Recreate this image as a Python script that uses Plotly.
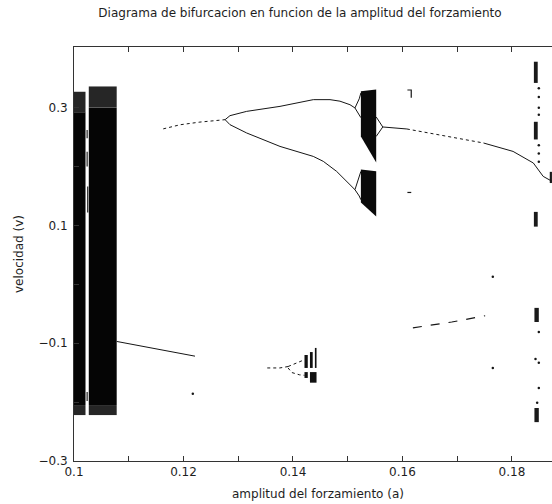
import plotly.graph_objects as go

# ---------------------------------------------------------------- axes
a_range = [0.1, 0.18731]
v_range = [-0.3, 0.403]

x_tick_vals = [0.10, 0.11, 0.12, 0.13, 0.14, 0.15, 0.16, 0.17, 0.18]
x_tick_text = ["0.1", "", "0.12", "", "0.14", "", "0.16", "", "0.18"]
y_tick_vals = [-0.3, -0.2, -0.1, 0.0, 0.1, 0.2, 0.3]
y_tick_text = ["\u22120.3", "", "\u22120.1", "", "0.1", "", "0.3"]

# ---------------------------------------------------------------- chaotic regions
# dense chaotic bands near a = 0.10 : (a_lo, a_hi, v_lo, v_hi)
dense_bands = [
    (0.1000, 0.1021, -0.205, 0.292),
    (0.1027, 0.1078, -0.205, 0.300),
]
# speckled ends of those bands
fringe_bands = [
    (0.1000, 0.1021, 0.292, 0.327),
    (0.1000, 0.1021, -0.222, -0.205),
    (0.1027, 0.1078, 0.300, 0.336),
    (0.1027, 0.1078, -0.222, -0.205),
]
# chaos after the period-doubling cascade near a = 0.153
chaos_hi_a = [0.1524, 0.1552, 0.1552, 0.1524]
chaos_hi_v = [0.328, 0.331, 0.207, 0.251]
chaos_lo_a = [0.1524, 0.1552, 0.1552, 0.1524]
chaos_lo_v = [0.195, 0.192, 0.115, 0.139]

# small chaotic windows near a = 0.143 (lower branch)
window_cells = [
    (0.1421, 0.1427, -0.142, -0.120),
    (0.1431, 0.1436, -0.142, -0.115),
    (0.1440, 0.1443, -0.142, -0.108),
    (0.1421, 0.1427, -0.159, -0.149),
    (0.1431, 0.1443, -0.167, -0.149),
]
# clusters near a = 0.184
right_cells = [
    (0.1840, 0.1847, 0.342, 0.378),
    (0.1840, 0.1847, 0.246, 0.276),
    (0.1840, 0.1847, 0.098, 0.123),
    (0.1841, 0.1849, -0.064, -0.040),
    (0.1841, 0.1849, -0.234, -0.210),
    (0.1869, 0.1873, 0.172, 0.191),
]

# ---------------------------------------------------------------- periodic branches
low_a = [0.1078, 0.1150, 0.1221]
low_v = [-0.097, -0.110, -0.122]

p1_a = [0.1163, 0.1194, 0.1230, 0.1276]
p1_v = [0.264, 0.271, 0.2755, 0.2796]

up_fork_a = [0.1276, 0.12849, 0.13154, 0.13763, 0.14371, 0.14676, 0.14858, 0.15041, 0.15132]
up_fork_v = [0.2796, 0.2864, 0.2937, 0.3022, 0.3136, 0.3136, 0.3110, 0.3050, 0.2995]

dn_fork_a = [0.1276, 0.12849, 0.13154, 0.13459, 0.13763, 0.14371, 0.14554, 0.14797, 0.14980, 0.15132]
dn_fork_v = [0.2796, 0.2711, 0.2570, 0.2456, 0.2342, 0.2172, 0.2088, 0.1918, 0.1748, 0.1607]

pd_up_a = [0.1524, 0.1521, 0.15132, 0.1521, 0.1524]
pd_up_v = [0.325, 0.315, 0.2995, 0.288, 0.283]
pd_dn_a = [0.1524, 0.1521, 0.15132, 0.1521, 0.1524]
pd_dn_v = [0.1918, 0.182, 0.1607, 0.150, 0.1437]

merge_a = [0.1552, 0.1564, 0.1552]
merge_v = [0.2842, 0.2672, 0.2512]

right_a = [0.1564, 0.1608, 0.1668, 0.1748, 0.1802, 0.1839, 0.1857, 0.1873]
right_v = [0.2672, 0.2638, 0.2541, 0.2400, 0.2257, 0.2060, 0.1833, 0.1750]

mid_a = [0.1619, 0.1690, 0.1751]
mid_v = [-0.0738, -0.0640, -0.0534]

# pitchfork of the lower branch before the small windows
w_stem_a = [0.1353, 0.1363, 0.1376, 0.1391]
w_stem_v = [-0.142, -0.142, -0.142, -0.1396]
w_up_a = [0.1391, 0.1398, 0.1412, 0.1421]
w_up_v = [-0.1396, -0.1367, -0.132, -0.128]
w_dn_a = [0.1391, 0.1398, 0.1412, 0.1421]
w_dn_v = [-0.1420, -0.1498, -0.1537, -0.1545]

# isolated points and short traces
dots_a = [0.1217, 0.1765, 0.1765, 0.1849, 0.1843, 0.1849, 0.1849, 0.1846,
          0.1849, 0.1849, 0.1849, 0.1849, 0.1849, 0.1849, 0.1849]
dots_v = [-0.186, 0.013, -0.142, -0.081, -0.127, -0.133, -0.176, -0.201,
          0.333, 0.318, 0.300, 0.288, 0.236, 0.222, 0.208]

gap_a = [0.1024, 0.1024, 0.1025, 0.1024]
gap_lo = [0.248, 0.200, 0.122, -0.198]
gap_hi = [0.262, 0.225, 0.166, -0.183]

tick_marks_a = [[0.1609, 0.1616, 0.1616], [0.1609, 0.1616]]
tick_marks_v = [[0.330, 0.330, 0.317], [0.156, 0.156]]

INK = "#161616"
FONT = "DejaVu Sans, Liberation Sans, Arial, sans-serif"
TEXT = "#1e1e1e"

fig = go.Figure()


def add_poly(xs, ys, color):
    fig.add_trace(go.Scatter(x=list(xs) + [xs[0]], y=list(ys) + [ys[0]], mode="lines",
                             fill="toself", fillcolor=color, line=dict(width=0, color=color),
                             hoverinfo="skip"))


def add_cell(cell, color):
    a0, a1, v0, v1 = cell
    add_poly([a0, a1, a1, a0], [v0, v0, v1, v1], color)


def add_line(xs, ys, width=1.0, dash="solid", color=INK):
    fig.add_trace(go.Scatter(x=xs, y=ys, mode="lines",
                             line=dict(color=color, width=width, dash=dash),
                             hoverinfo="skip"))


for c in dense_bands:
    add_cell(c, "#050505")
for c in fringe_bands:
    add_cell(c, "#262626")
add_poly(chaos_hi_a, chaos_hi_v, "#0a0a0a")
add_poly(chaos_lo_a, chaos_lo_v, "#0a0a0a")
for c in window_cells:
    add_cell(c, "#111111")
for c in right_cells:
    add_cell(c, "#1a1a1a")

add_line(low_a, low_v)
add_line(p1_a, p1_v, dash="dot")
add_line(up_fork_a, up_fork_v)
add_line(dn_fork_a, dn_fork_v)
add_line(pd_up_a, pd_up_v)
add_line(pd_dn_a, pd_dn_v)
add_line(merge_a, merge_v)
add_line(right_a[:2], right_v[:2])
add_line(right_a[1:4], right_v[1:4], dash="dot")
add_line(right_a[3:], right_v[3:])
add_line(mid_a, mid_v, dash="dash", width=1.2)
add_line(w_stem_a, w_stem_v, dash="dot")
add_line(w_up_a, w_up_v, dash="dot")
add_line(w_dn_a, w_dn_v, dash="dot")

for a, lo, hi in zip(gap_a, gap_lo, gap_hi):
    add_line([a, a], [lo, hi], width=1.3, color="#333333")
for xs, ys in zip(tick_marks_a, tick_marks_v):
    add_line(xs, ys, width=1.2)

fig.add_trace(go.Scatter(x=dots_a, y=dots_v, mode="markers",
                         marker=dict(size=2.5, color=INK), hoverinfo="skip"))

axis_common = dict(
    showgrid=False, zeroline=False, showline=True, linecolor="#333333", linewidth=1,
    ticks="inside", ticklen=5, tickcolor="#333333", tickwidth=1,
    tickfont=dict(family=FONT, size=12, color=TEXT),
)

fig.update_xaxes(range=a_range, tickmode="array", tickvals=x_tick_vals, ticktext=x_tick_text,
                 mirror="ticks", **axis_common)
fig.update_yaxes(range=v_range, tickmode="array", tickvals=y_tick_vals, ticktext=y_tick_text,
                 mirror=False, ticklabelstandoff=3, **axis_common)

fig.update_layout(
    width=552, height=504,
    margin=dict(l=74, r=0, t=47, b=43),
    paper_bgcolor="white", plot_bgcolor="white",
    showlegend=False,
    title=dict(text="Diagrama de bifurcacion en funcion de la amplitud del forzamiento",
               x=300 / 552, xref="container", xanchor="center",
               y=1 - 13 / 504, yref="container", yanchor="middle",
               font=dict(family=FONT, size=12, color=TEXT)),
    annotations=[
        dict(text="amplitud del forzamiento (a)", xref="paper", yref="paper",
             x=(318 - 74) / 478, y=(461 - 494) / 414, xanchor="center", yanchor="middle",
             showarrow=False, font=dict(family=FONT, size=12, color=TEXT)),
        dict(text="velocidad (v)", xref="paper", yref="paper",
             x=(19 - 74) / 478, y=0.5, xanchor="center", yanchor="middle", textangle=-90,
             showarrow=False, font=dict(family=FONT, size=12, color=TEXT)),
    ],
)

fig.write_html("out.html")
